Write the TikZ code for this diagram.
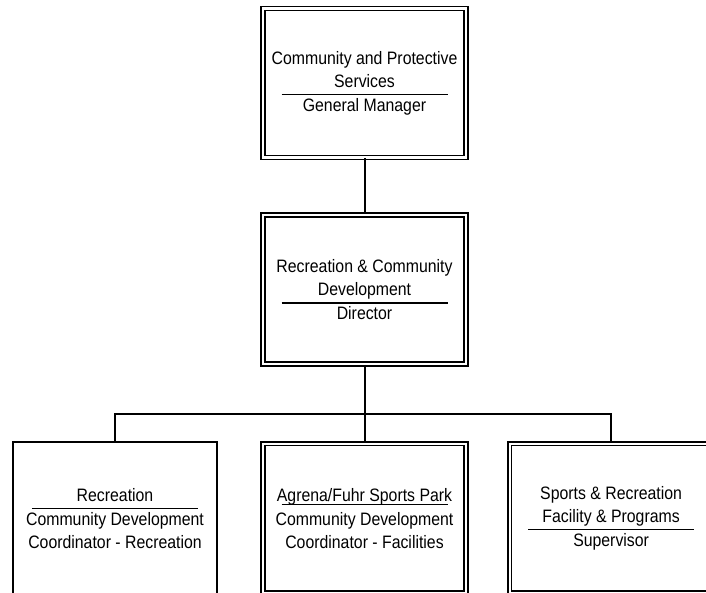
\documentclass[tikz,border=0pt]{standalone}
\usepackage{fontspec}
\setmainfont{Liberation Sans}[FakeStretch=0.88]
\usetikzlibrary{positioning}
\newcommand{\divider}{\\[-15pt]\rule{166pt}{1.5pt}\\[-7pt]}
\tikzset{
    box/.style={rectangle, draw, line width=1.9pt,
        minimum width=204.5pt, minimum height=152pt, inner sep=0pt,
        align=center, font=\fontsize{18pt}{23pt}\selectfont},
    dbox/.style={box, double, double distance=2.2pt, line width=1.6pt,
        minimum width=203pt, minimum height=149pt},
    link/.style={line width=2pt}
}
\begin{document}
\begin{tikzpicture}
    \clip[use as bounding box] (0,0) rectangle (706pt,-593pt);
    \node[dbox] (gm) at (364.5pt,-83pt) {Community and Protective\\Services\divider General Manager};
    \node[dbox, below=56pt of gm] (dir) {Recreation \& Community\\Development\divider Director};
    \coordinate[below=49pt of dir] (bus);
    \node[dbox, below=29pt of bus] (fac) {Agrena/Fuhr Sports Park\\[-19pt]\rule{166pt}{1.5pt}\\[-3pt]Community Development\\Coordinator - Facilities};
    \node[box, left=44pt of fac] (rec) {Recreation\divider Community Development\\Coordinator - Recreation};
    \node[dbox, right=42pt of fac] (sup) {Sports \& Recreation\\Facility \& Programs\divider Supervisor};
    \draw[link] (gm) -- (dir);
    \draw[link] (dir) -- (bus);
    \draw[link] (bus) -| (rec);
    \draw[link] (bus) -| (sup);
    \draw[link] (bus) -- (fac);
\end{tikzpicture}
\end{document}
